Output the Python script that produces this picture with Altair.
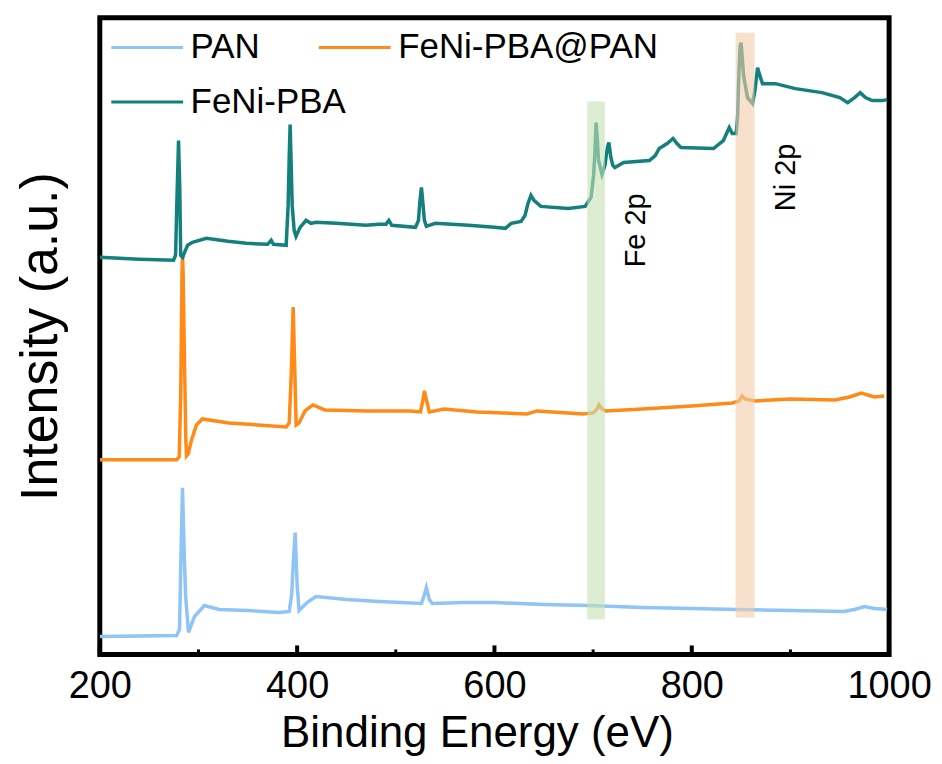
import altair as alt
import pandas as pd

# ---- data (energy in eV, intensity in arbitrary units) ----
PAN = [(200, 18), (277.8, 19), (280.8, 25), (282.5, 110), (283.8, 167), (285.3, 110),
       (286.9, 60), (289.9, 22), (296, 38), (306, 49), (321, 45), (350, 44), (381.8, 42),
       (392, 43), (394.5, 60), (396, 90), (398, 122), (400, 70), (402, 44), (410, 52),
       (419, 58), (450, 55), (483, 53), (526, 51), (529, 60), (531, 67), (534, 55),
       (537, 51), (570, 52), (601, 52), (650, 50), (695, 49), (750, 47), (800, 46),
       (846, 45), (900, 44), (954, 43), (965, 45), (975, 48), (985, 46), (998, 45)]

FENI_PBA_PAN = [(200, 195), (277.8, 195), (280.5, 198), (282, 260), (283.3, 380), (283.8, 402),
                (284.5, 380), (285.9, 290), (287.2, 215), (287.9, 199), (289.5, 201), (293, 215),
                (298, 230), (303.9, 236), (331, 232), (360, 230), (389, 228), (392, 232),
                (394, 280), (396, 348), (397.5, 290), (399, 230), (402, 232), (408, 244),
                (416, 250), (428, 245), (470, 244), (515, 244), (525, 243), (527, 252),
                (529, 264), (531, 255), (534, 243), (549, 246), (582, 243), (633, 241),
                (643, 244), (690, 241), (700, 242), (704, 246), (706, 250), (709, 246),
                (713, 244), (750, 246), (800, 249), (841, 252), (848, 254), (851, 259),
                (854, 256), (864, 254), (900, 256), (945, 255), (960, 258), (972, 262),
                (985, 258), (995, 259)]

FENI_PBA = [(200, 398), (240, 396), (274.7, 395), (276.8, 400), (278.3, 460), (279.8, 515),
            (281, 470), (282, 400), (284, 398), (285.9, 403), (289, 410), (293.9, 413),
            (308, 417), (330, 414), (348.5, 412), (370, 411), (373.7, 415), (376, 411),
            (388.9, 410), (390.9, 450), (392, 500), (392.9, 531), (394, 490), (395, 450),
            (397, 425), (398.9, 419), (403, 428), (409, 435), (414, 432), (419, 433),
            (440, 432), (469.7, 430), (482.8, 431), (490, 431), (493, 435), (496, 430),
            (519.9, 428), (523, 435), (524.5, 455), (526, 468), (527.5, 452), (529, 435),
            (531, 429), (540, 432), (573.7, 430), (600, 428), (611, 427), (617, 432),
            (627, 434), (631, 440), (634, 452), (637, 460), (640, 455), (647, 449),
            (674.7, 447), (691.9, 449), (697.9, 458), (700.5, 480), (701.9, 505), (703, 533),
            (704.3, 515), (705.5, 495), (709, 481), (712, 490), (714.5, 508), (716, 513),
            (718, 498), (720, 490), (722, 488), (731, 493), (757, 495), (763, 500),
            (767, 507), (775, 512), (781, 517), (785, 512), (789, 508), (822, 507),
            (832, 515), (838, 528), (841, 522), (845, 522), (846.5, 540), (847.5, 575),
            (849, 610), (850, 613), (851, 600), (852.5, 580), (856.5, 558), (861.6, 552),
            (864, 565), (866.7, 588), (869, 580), (871.7, 572), (884.8, 572), (905, 567),
            (932, 563), (950, 558), (958, 553), (965, 558), (970.7, 563), (976, 558),
            (982.8, 555), (993, 555), (998, 556)]

SERIES_A = ["PAN", "FeNi-PBA@PAN"]
SERIES_B = ["FeNi-PBA"]
COLORS_A = ["#8EC4F7", "#FF8A17"]
COLORS_B = ["#13807D"]

BAND_LABELS = ["Fe 2p", "Ni 2p"]
BAND_START = [694, 844.4]
BAND_END = [712, 863.6]
BAND_BOTTOM = [35, 37]
BAND_TOP = [554, 623]
BAND_COLORS = ["#C4E1B4", "#F2CDAC"]
LABEL_X = [743, 896]
LABEL_Y = [425, 478]

MAJOR_TICKS = [200, 400, 600, 800, 1000]
MINOR_TICKS = [300, 500, 700, 900]

FONT = "Liberation Sans"
W, H = 791, 638


def frame(name, pts):
    return pd.DataFrame({"energy": [p[0] for p in pts],
                         "intensity": [p[1] for p in pts],
                         "sample": name})


df_a = pd.concat([frame("PAN", PAN), frame("FeNi-PBA@PAN", FENI_PBA_PAN)])
df_b = frame("FeNi-PBA", FENI_PBA)
bands = pd.DataFrame({"label": BAND_LABELS, "energy": BAND_START, "energy_end": BAND_END,
                      "intensity": BAND_BOTTOM, "intensity_top": BAND_TOP,
                      "color": BAND_COLORS, "lx": LABEL_X, "ly": LABEL_Y})
major_df = pd.DataFrame({"energy": MAJOR_TICKS})
minor_df = pd.DataFrame({"energy": MINOR_TICKS})

xscale = alt.Scale(domain=[200, 1000], nice=False, zero=False)
yscale = alt.Scale(domain=[0, 638], nice=False, zero=False)
xaxis = alt.Axis(values=MAJOR_TICKS, format="d", title="Binding Energy (eV)", ticks=False,
                 domain=False, grid=False, labelFontSize=38, titleFontSize=44, labelFont=FONT,
                 titleFont=FONT, labelColor="black", titleColor="black",
                 titleFontWeight="normal", labelPadding=13, titlePadding=6, labelFlush=False,
                 titleX=378, titleAnchor="middle", titleAlign="center")
yaxis = alt.Axis(title="Intensity (a.u.)", labels=False, ticks=False, domain=False, grid=False,
                 titleFontSize=52, titleFont=FONT, titleColor="black", titleFontWeight="normal",
                 titlePadding=32)

legend_common = dict(title=None, orient="none", direction="horizontal", symbolType="stroke",
                     symbolSize=5184, symbolStrokeWidth=3, labelFontSize=35, labelFont=FONT,
                     labelColor="black", labelOffset=6, columnPadding=52, labelLimit=500)

lines_a = alt.Chart(df_a).mark_line(strokeWidth=3.5, clip=True).encode(
    x=alt.X("energy:Q", scale=xscale, axis=xaxis),
    y=alt.Y("intensity:Q", scale=yscale, axis=yaxis),
    color=alt.Color("sample:N", scale=alt.Scale(domain=SERIES_A, range=COLORS_A),
                    legend=alt.Legend(legendX=10, legendY=-8, **legend_common)),
)
lines_b = alt.Chart(df_b).mark_line(strokeWidth=3.5, clip=True).encode(
    x=alt.X("energy:Q", scale=xscale, axis=xaxis),
    y=alt.Y("intensity:Q", scale=yscale, axis=yaxis),
    color=alt.Color("sample:N", scale=alt.Scale(domain=SERIES_B, range=COLORS_B),
                    legend=alt.Legend(legendX=10, legendY=47, **legend_common)),
)
band_rects = alt.Chart(bands).mark_rect(opacity=0.6).encode(
    x=alt.X("energy:Q", scale=xscale, axis=xaxis),
    x2="energy_end:Q",
    y=alt.Y("intensity:Q", scale=yscale, axis=yaxis),
    y2="intensity_top:Q",
    fill=alt.Fill("color:N", scale=None),
)
band_text = alt.Chart(bands).mark_text(angle=270, fontSize=29, font=FONT, color="black",
                                       align="center", baseline="middle").encode(
    x=alt.X("lx:Q", scale=xscale, axis=xaxis),
    y=alt.Y("ly:Q", scale=yscale, axis=yaxis),
    text="label:N",
)
major_ticks = alt.Chart(major_df).mark_rule(color="black", strokeWidth=4).encode(
    x=alt.X("energy:Q", scale=xscale, axis=xaxis),
    y=alt.value(H), y2=alt.value(H - 9),
)
minor_ticks = alt.Chart(minor_df).mark_rule(color="black", strokeWidth=3).encode(
    x=alt.X("energy:Q", scale=xscale, axis=xaxis),
    y=alt.value(H), y2=alt.value(H - 5),
)

chart = alt.layer(lines_a, lines_b, band_rects, band_text, major_ticks, minor_ticks).resolve_scale(
    color="independent"
).properties(
    width=W, height=H,
    padding={"left": 92, "top": 9, "right": 45, "bottom": 107},
    autosize=alt.AutoSizeParams(type="none"),
    background="white",
).configure_view(stroke="black", strokeWidth=5)

chart.save("out.html", embed_options={"renderer": "svg", "actions": False})
